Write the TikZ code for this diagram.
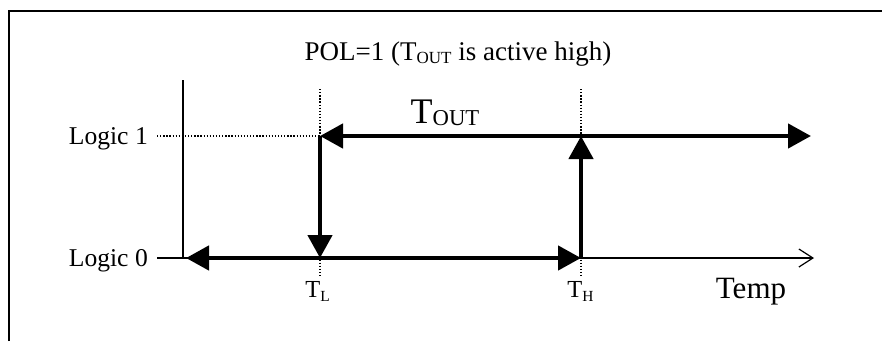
\documentclass[tikz,border=0pt]{standalone}
\usepackage{fontspec}
\setmainfont{Liberation Serif}
\usetikzlibrary{arrows.meta}
\newcommand{\lsub}[2][0.16em]{\raisebox{-#1}{\scalebox{0.63}{#2}}}
\tikzset{
    axisline/.style={line width=1.2pt},
    guide/.style={line width=1.4pt, dash pattern=on 1.3pt off 1.8pt},
    level/.style={line width=4.5pt},
    >={Triangle[length=23pt,width=24pt]},
    lbl/.style={font=\fontsize{25.6}{30}\selectfont, anchor=base east, inner xsep=9pt, inner ysep=2pt},
    tick/.style={font=\fontsize{24.5}{28}\selectfont, anchor=base, inner sep=3pt}
}
\begin{document}
\begin{tikzpicture}[x=1pt, y=-1pt]
    \useasboundingbox (0, 0) rectangle (882, 341);
    \draw[line width=1.5pt] (9, 341) |- (882, 11);
    \node[font=\fontsize{27}{32}\selectfont, anchor=base] (title) at (458, 60) {POL=1 (T\lsub[0.13em]{OUT} is active high)};

    \coordinate (O) at (183, 258);
    \coordinate (ytop) at (183, 80);
    \coordinate (xend) at (814, 258);
    \coordinate (TLhi) at (320, 136);
    \coordinate (TLlo) at (320, 258);
    \coordinate (THhi) at (581, 136);
    \coordinate (THlo) at (581, 258);
    \coordinate (TLtop) at (320, 89);
    \coordinate (THtop) at (581, 89);
    \coordinate (lowend) at (186, 258);
    \coordinate (highend) at (811, 136);

    \node[lbl] (L1) at (157, 144) {Logic 1};
    \node[lbl] (L0) at (157, 266.7) {Logic 0};
    \node[tick] (TL) at (317.5, 297) {T\lsub[0.2em]{L}};
    \node[tick] (TH) at (580.5, 297) {T\lsub[0.2em]{H}};
    \node[font=\fontsize{31}{36}\selectfont, anchor=base] (temp) at (751, 298) {Temp};
    \node[font=\fontsize{36}{40}\selectfont, anchor=base] (tout) at (445, 123) {T\lsub[0.08em]{OUT}};

    \draw[axisline, -{Straight Barb[length=14pt,width=18pt]}] (ytop) -- (O) -- (xend);
    \draw[axisline] (L0.east |- O) -- (O);
    \draw[guide] (L1.east |- TLhi) -- (TLhi);
    \draw[guide] (TLtop) -- (TLtop |- TL.north);
    \draw[guide] (THtop) -- (THtop |- TH.north);

    \draw[level, <->] (lowend) -- (THlo);
    \draw[level, <->] (TLhi) -- (highend);
    \draw[level, ->] (TLhi) -- (TLlo);
    \draw[level, ->] (THlo) -- (THhi);
\end{tikzpicture}
\end{document}
